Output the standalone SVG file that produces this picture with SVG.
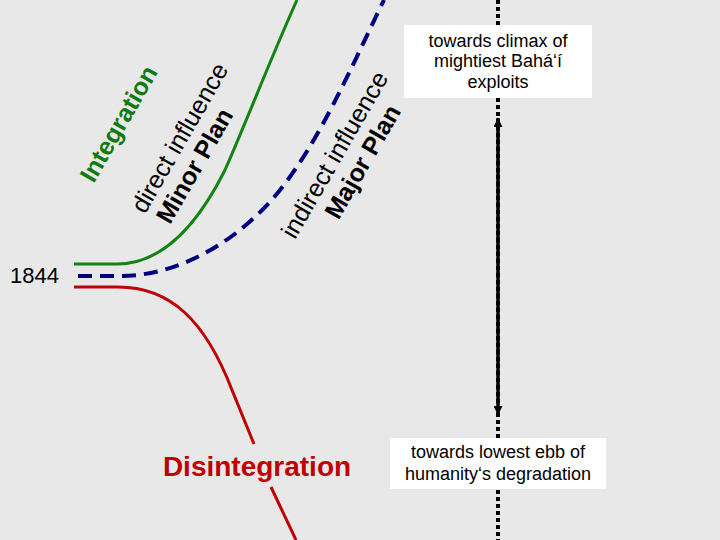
<svg xmlns="http://www.w3.org/2000/svg" width="720" height="540" viewBox="0 0 720 540">
<style>
.t{font-family:"Liberation Sans",Arial,sans-serif;}
.b{font-weight:bold;}
.box{fill:#ffffff;}
.lbl{font-size:18px;fill:#000;text-anchor:middle;}
.rot{font-size:25px;fill:#000;text-anchor:middle;}
</style>
<defs>
<marker id="ah" viewBox="0 0 10 10" refX="10" refY="5" markerUnits="userSpaceOnUse" markerWidth="9" markerHeight="9" orient="auto">
<path d="M0,0 L10,5 L0,10 Z" fill="#000"/>
</marker>
</defs>
<rect x="0" y="0" width="720" height="540" fill="#e8e8e8"/>
<g id="connectors" fill="none">
<line id="timeline-dotted" x1="498" y1="0" x2="498" y2="540" stroke="#000" stroke-width="4" stroke-dasharray="4 3"/>
<line id="timeline-arrow" x1="498" y1="260" x2="498" y2="118" stroke="#000" stroke-width="3.5" marker-end="url(#ah)"/>
<line id="timeline-arrow2" x1="498" y1="260" x2="498" y2="415" stroke="#000" stroke-width="3.5" marker-end="url(#ah)"/>
<path id="minor-plan-line" d="M74,264 L117,264 C160,264 195,230 225,170 C245,125 270,60 297,0" stroke="#138313" stroke-width="3"/>
<path id="major-plan-line" d="M78,276 L120,276 C180,276 240,240 280,190 C320,140 350,70 384,0" stroke="#000080" stroke-width="4" stroke-dasharray="14 8"/>
<path id="disintegration-line" d="M74,287 L118,287 C170,287 205,320 232,390 L254,444" stroke="#c00000" stroke-width="3"/>
<path id="disintegration-line2" d="M271,487 L296,540" stroke="#c00000" stroke-width="3"/>
</g>
<g id="year">
<text class="t" x="10" y="283" font-size="22" fill="#000">1844</text>
</g>
<g id="integration">
<text class="t b" x="126" y="128" font-size="25" fill="#0f7a0f" text-anchor="middle" transform="rotate(-60 126 128)">Integration</text>
</g>
<g id="minor-plan">
<text class="t rot" x="187" y="142" transform="rotate(-60 187 142)">direct influence</text>
<text class="t b rot" x="202" y="170" transform="rotate(-60 202 170)">Minor Plan</text>
</g>
<g id="major-plan">
<text class="t rot" x="342" y="159" transform="rotate(-60 342 159)">indirect influence</text>
<text class="t b rot" x="370" y="166" transform="rotate(-60 370 166)">Major Plan</text>
</g>
<g id="disintegration">
<text class="t b" x="257" y="476" font-size="28" fill="#c00000" text-anchor="middle">Disintegration</text>
</g>
<g id="climax-box">
<rect class="box" x="404" y="25" width="188" height="73"/>
<text class="t lbl" x="498" y="47">towards climax of</text>
<text class="t lbl" x="498" y="67">mightiest Bahá‘í</text>
<text class="t lbl" x="498" y="88">exploits</text>
</g>
<g id="ebb-box">
<rect class="box" x="390" y="438" width="216" height="51"/>
<text class="t lbl" x="498" y="458">towards lowest ebb of</text>
<text class="t lbl" x="498" y="480">humanity‘s degradation</text>
</g>
</svg>
